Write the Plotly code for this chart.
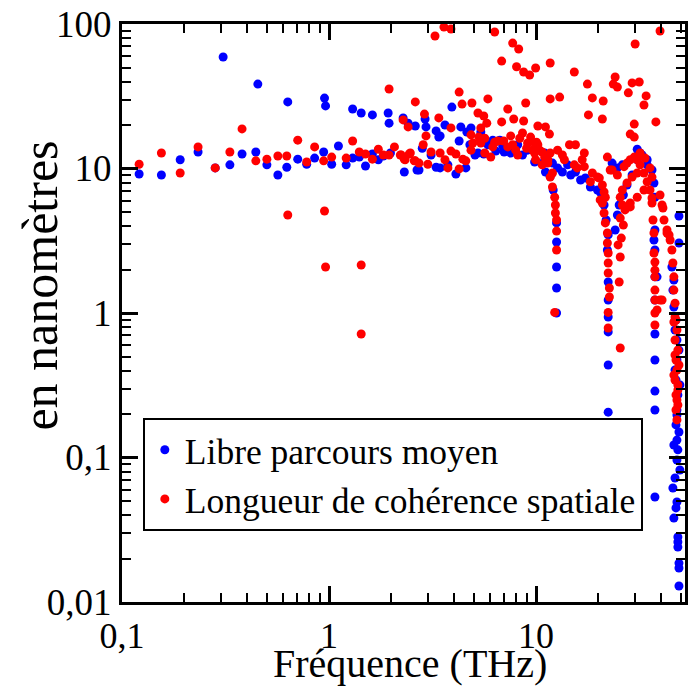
import math
import plotly.graph_objects as go

# ---- Data (frequency in THz, length in nm) ----
freq_mfp = [
    0.121, 0.155, 0.191, 0.233, 0.282, 0.308, 0.332, 0.380, 0.443, 0.453,
    0.501, 0.566, 0.625, 0.632, 0.706, 0.780, 0.852, 0.942, 0.951, 0.962,
    1.03, 1.11, 1.21, 1.30, 1.30, 1.40, 1.43, 1.50, 1.62, 1.62,
    1.73, 1.83, 1.93, 1.95, 1.98, 2.28, 2.31, 2.41, 2.61, 2.66,
    2.91, 2.94, 3.29, 3.39, 2.82, 3.11, 2.72, 3.29, 3.44, 3.75,
    4.10, 4.58, 3.92, 4.25, 4.33, 4.79, 4.85, 5.41, 5.07, 5.59,
    6.39, 6.68, 7.01, 7.88, 8.60, 9.84, 10.9, 3.63, 3.44, 4.63,
    5.24, 7.54, 11.1, 9.10, 8.15, 7.30, 6.18, 5.85, 6.90,
    11.0, 12.7, 13.4, 14.7, 16.4, 18.3, 19.8, 20.4, 15.5, 17.3,
    12.0, 14.2, 11.7, 12.1,
    12.56, 12.56, 12.56, 12.56, 12.56,
    22.3, 22.3, 22.3, 22.3, 22.3, 22.3, 20.9, 21.3, 21.8, 22.1, 22.3,
    24.1, 24.7, 25.2, 26.4, 27.5, 29.1, 30.8, 30.8, 32.5, 34.4,
    31.8, 34.4, 36.3, 37.1, 37.5, 23.3, 24.7, 26.1,
    37.5, 37.5, 37.1, 37.5, 38.4, 37.5, 37.5, 37.5, 37.5, 37.5, 37.5,
    45.3, 46.3, 49.0, 49.0, 45.8, 46.3,
    47.4, 47.9, 47.9, 47.4, 48.4, 47.9, 47.4, 47.9, 48.4, 47.9,
    46.9, 45.8, 47.9, 47.4, 46.3, 48.4, 48.4, 48.4, 49.0, 49.0,
    49.0, 46.9, 49.0, 46.9, 49.5, 47.9, 49.0, 46.3, 49.5,
]
mfp = [
    9.16, 9.02, 11.5, 13.0, 10.1, 59.1, 10.6, 12.6, 13.0, 38.4,
    10.6, 9.02, 10.2, 28.9, 11.6, 10.7, 11.8, 13.0, 30.7, 27.1,
    10.7, 14.3, 10.6, 25.8, 11.8, 12.0, 24.2, 10.4, 23.5, 12.6,
    11.5, 12.2, 24.2, 20.6, 12.8, 22.4, 9.45, 20.6, 19.7, 9.77,
    22.0, 19.4, 18.2, 16.5, 13.8, 12.4, 9.77, 10.2, 10.1, 10.6,
    9.16, 10.1, 26.6, 15.5, 19.4, 14.6, 19.1, 17.9, 12.4, 12.6,
    13.2, 15.7, 13.0, 13.4, 12.4, 11.1, 11.1, 20.0, 16.8, 17.9,
    12.8, 12.8, 9.45, 13.4, 14.6, 13.8, 15.7, 14.6, 14.3,
    12.8, 10.1, 9.45, 9.02, 8.33, 7.45, 7.10, 6.88, 9.45, 8.59,
    10.9, 10.6, 8.8, 7.10,
    4.20, 3.10, 2.08, 1.49, 1.00,
    3.47, 1.64, 0.938, 0.740, 0.437, 0.206, 6.56, 5.59, 4.40, 2.73, 1.23,
    3.75, 4.77, 5.59, 6.56, 7.69, 9.02, 11.5, 13.6, 12.4, 10.6,
    12.8, 11.5, 9.77, 7.94, 6.33, 10.9, 10.1, 10.6,
    3.75, 2.73, 3.20, 1.78, 1.78, 1.23, 0.716, 0.473, 0.288, 0.213, 0.0533,
    2.08, 1.10, 4.69, 3.05, 1.44, 1.69,
    0.895, 0.650, 0.473, 0.344, 0.271, 0.213, 0.168, 0.132, 0.113, 0.096,
    0.0721, 0.0615, 0.0492, 0.0448, 0.0381, 0.0282, 0.0260, 0.0240, 0.0186, 0.0172,
    0.0129, 0.763, 0.554, 0.403, 0.318, 0.197, 0.150, 0.122, 0.082,
]

freq_coh = [
    0.121, 0.155, 0.191, 0.233, 0.282, 0.332, 0.380, 0.443, 0.501, 0.566,
    0.625, 0.632, 0.706, 0.780, 0.852, 0.942, 0.951, 0.962, 1.03, 1.21,
    1.30, 1.40, 1.43, 1.43, 1.50, 1.62, 1.73, 1.83, 1.95, 1.95,
    2.07, 2.21, 2.28, 2.41, 2.44, 2.31, 2.61, 2.58,
    3.25, 3.59, 3.88, 6.31, 7.71, 8.24, 6.82, 8.05, 8.71, 9.31,
    9.95, 11.7, 15.3, 17.7, 18.7, 17.9, 20.9, 21.1, 24.1, 23.6,
    24.7, 27.9, 29.1, 31.5, 30.1, 39.7, 34.0, 33.2, 37.9, 29.8,
    28.5, 29.8, 11.7, 13.0, 8.91, 7.30, 5.85, 4.90, 4.25, 4.39,
    2.89, 3.39, 5.24, 5.59, 5.78, 6.82, 7.80, 8.71, 10.2, 11.1, 11.6,
    3.88, 2.94, 2.85, 3.11, 3.44, 3.88, 4.10, 2.23, 2.47, 2.33,
    2.61, 2.72, 3.00, 3.63, 3.75, 4.25, 4.43, 4.58, 4.85, 5.41,
    5.29, 4.95, 4.85, 5.41, 5.65, 6.04, 6.18, 6.53, 6.98, 7.30,
    7.54, 8.34, 8.60, 7.97, 9.00, 9.41, 9.84, 10.05, 10.7, 11.0,
    9.84, 5.65, 6.31, 7.71, 8.15, 9.10, 9.62, 10.2, 10.4, 9.95,
    11.4, 10.7,
    11.7, 13.7, 15.3, 17.1, 18.7, 20.2, 20.9, 21.3, 21.6, 12.0,
    11.4, 14.5, 15.5, 17.1, 15.8, 19.8, 18.3, 20.4, 22.1, 23.3,
    12.7, 13.4, 16.7,
    11.7, 12.0, 12.3, 12.4, 12.4, 12.56, 12.56, 12.56, 12.3,
    20.9, 21.3, 21.6, 22.1, 22.1, 22.3, 22.3, 22.3, 22.6, 22.6, 22.3, 22.3,
    25.2, 25.5, 25.8, 24.9, 26.4, 25.5, 26.9, 26.1, 28.5, 25.5,
    22.8, 24.7, 26.6, 27.5, 28.5, 29.8, 30.8, 31.8, 29.1, 27.5,
    26.1, 25.5, 30.8, 33.2, 34.4, 35.5, 36.3, 33.2, 30.8, 28.5,
    31.8, 33.6, 35.5, 36.3,
    36.3, 36.7, 37.1, 37.1, 37.5, 37.5, 37.5, 37.5, 37.5, 38.4,
    40.6, 37.5, 37.5, 39.7, 39.7, 40.6, 41.5, 42.9,
    41.0, 42.9, 43.9, 44.4, 45.3, 45.8, 46.3, 46.3, 46.9, 46.9,
    47.4, 47.9, 46.9, 48.4, 47.4, 47.9, 46.9, 48.4, 47.9, 47.4,
    47.9, 46.9, 49.0, 46.3, 48.4, 47.4, 48.4, 46.3,
]
coh = [
    10.7, 12.8, 9.31, 14.1, 10.1, 13.0, 18.8, 11.3, 11.6, 12.2,
    12.2, 4.77, 15.7, 11.1, 14.1, 11.3, 5.08, 2.08, 12.0, 11.8,
    15.5, 13.0, 2.15, 0.716, 12.6, 11.6, 13.6, 12.4, 35.5, 12.4,
    14.1, 12.4, 21.7, 19.4, 12.6, 11.6, 28.9, 11.3,
    82.6, 95.3, 92.3, 88.0, 73.8, 67.1, 55.4, 50.6, 46.5, 44.4,
    49.6, 53.7, 46.5, 38.4, 30.8, 23.5, 22.0, 29.3, 43.0, 38.4,
    36.6, 33.4, 39.1, 39.7, 72.7, 89.4, 31.8, 27.5, 21.0, 20.3,
    17.3, 16.5, 30.3, 31.2, 28.4, 25.8, 30.3, 28.4, 33.8, 27.9,
    23.8, 22.4, 24.2, 23.1, 20.6, 21.0, 22.0, 21.3, 19.7, 19.4, 17.3,
    19.1, 16.8, 14.6, 13.0, 12.8, 13.2, 12.6, 12.4, 12.8, 11.5,
    11.3, 10.9, 10.7, 11.5, 10.1, 9.93, 11.6, 11.3, 17.1, 19.1,
    16.5, 15.0, 13.4, 15.0, 12.8, 12.0, 14.1, 15.5, 15.5, 14.1,
    16.8, 16.2, 17.6, 13.4, 13.8, 16.5, 15.0, 15.2, 13.0, 12.0,
    12.8, 16.2, 15.2, 14.6, 12.4, 15.0, 13.4, 14.6, 13.4, 11.5,
    11.5, 10.6,
    12.8, 11.5, 10.6, 10.3, 9.31, 8.59, 7.69, 6.88, 6.33, 9.31,
    10.9, 14.6, 14.6, 12.8, 10.1, 8.72, 8.09, 6.06, 12.0, 9.77,
    13.4, 12.4, 11.5,
    8.72, 7.45, 6.33, 5.59, 4.92, 4.40, 3.69, 2.73, 1.01,
    5.77, 4.92, 4.20, 3.58, 3.05, 2.60, 2.22, 1.89, 1.49, 1.29, 1.01, 0.787,
    1.64, 2.44, 3.30, 2.96, 4.06, 4.54, 5.17, 5.59, 5.42, 0.573,
    9.77, 9.02, 10.3, 10.9, 11.5, 12.0, 11.5, 10.6, 8.72, 7.94,
    7.10, 6.33, 9.31, 9.31, 8.09, 7.10, 6.25, 7.10, 6.33, 5.77,
    12.8, 11.8, 10.1, 8.72,
    5.77, 4.40, 3.58, 2.60, 2.25, 1.98, 1.78, 1.44, 1.23, 1.05,
    1.23, 1.00, 0.826, 1.23, 6.56, 5.59, 4.40, 3.58,
    5.33, 3.75, 3.47, 3.20, 2.73, 2.22, 1.78, 1.44, 1.17, 0.938,
    0.895, 0.763, 0.650, 0.554, 0.473, 0.403, 0.344, 0.293, 0.250, 0.213,
    0.182, 0.512, 0.437, 0.372, 0.318, 0.271, 0.231, 0.867,
]

series_names = ["Libre parcours moyen", "Longueur de cohérence spatiale"]
series_colors = ["#0000ff", "#ff0000"]
x_title = "Fréquence (THz)"
y_title = "en nanomètres"

x_tickvals = [0.1, 1, 10]
x_ticktext = ["0,1", "1", "10"]
y_tickvals = [0.01, 0.1, 1, 10, 100]
y_ticktext = ["0,01", "0,1", "1", "10", "100"]
x_range = [0.1, 52.4]
y_range = [0.01, 100]

x_minor = [m * 10.0 ** e for e in (-1, 0, 1) for m in range(2, 10) if m * 10.0 ** e < x_range[1]]
y_minor = [m * 10.0 ** e for e in (-2, -1, 0, 1) for m in range(2, 10)]

FONT = "Liberation Serif"

fig = go.Figure()
fig.add_trace(go.Scatter(x=freq_mfp, y=mfp, mode="markers", name=series_names[0],
                         marker=dict(color=series_colors[0], size=9, line=dict(width=0))))
fig.add_trace(go.Scatter(x=freq_coh, y=coh, mode="markers", name=series_names[1],
                         marker=dict(color=series_colors[1], size=9, line=dict(width=0))))


def axis_style(tickvals, ticktext, minor_vals, rng, fsize):
    return dict(
        type="log",
        range=[math.log10(rng[0]), math.log10(rng[1])],
        tickmode="array", tickvals=tickvals, ticktext=ticktext,
        showgrid=False, zeroline=False,
        showline=True, linecolor="black", linewidth=3, mirror="ticks",
        ticks="inside", ticklen=16, tickwidth=2.5, tickcolor="black",
        tickfont=dict(family=FONT, size=fsize, color="black"),
        minor=dict(tickmode="array", tickvals=minor_vals, ticks="inside",
                   ticklen=9, tickwidth=2, tickcolor="black", showgrid=False),
    )


fig.update_layout(
    width=692, height=688,
    margin=dict(l=122, r=4, t=24, b=86),
    paper_bgcolor="white", plot_bgcolor="white",
    font=dict(family=FONT, color="black"),
    xaxis=axis_style(x_tickvals, x_ticktext, x_minor, x_range, 36),
    yaxis=axis_style(y_tickvals, y_ticktext, y_minor, y_range, 37),
    showlegend=True,
    legend=dict(x=0.037, y=0.318, xanchor="left", yanchor="top",
                bgcolor="white", bordercolor="black", borderwidth=2,
                font=dict(family=FONT, size=35.5, color="black"),
                itemwidth=30, tracegroupgap=0),
)

# axis titles placed as annotations to match the reference placement
fig.add_annotation(text=x_title, xref="paper", yref="paper", x=0.512, y=-0.149,
                   xanchor="center", yanchor="bottom", showarrow=False,
                   font=dict(family=FONT, size=40, color="black"))
fig.add_annotation(text=y_title, xref="paper", yref="paper", x=-0.145, y=0.548,
                   xanchor="center", yanchor="middle", textangle=-90, showarrow=False,
                   font=dict(family=FONT, size=50, color="black"))

fig.write_html("out.html")
